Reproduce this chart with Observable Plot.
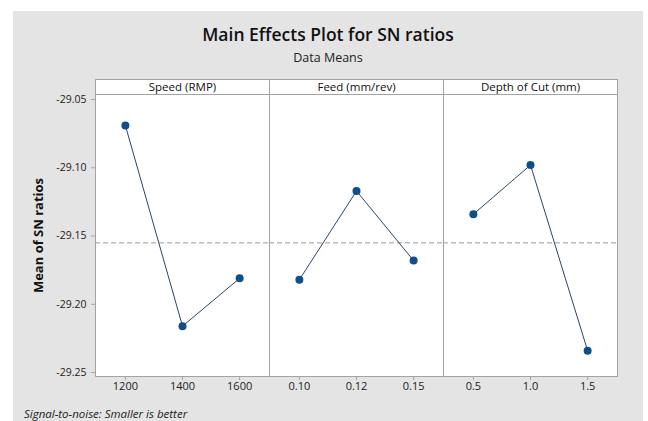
<!DOCTYPE html>
<html>
<head>
<meta charset="utf-8">
<script src="https://cdn.jsdelivr.net/npm/d3@7"></script>
<script src="https://cdn.jsdelivr.net/npm/@observablehq/plot@0.6"></script>
<style>
  html, body { margin: 0; padding: 0; background: #fff; width: 648px; height: 421px; overflow: hidden; }
  #bg { position: absolute; left: 13px; top: 11px; width: 630px; height: 410px; background: #e4e4e4; font-family: "Open Sans", sans-serif; }
  #title { position: absolute; left: 0; width: 630px; top: 11px; text-align: center; font-size: 17.5px; font-weight: 600; color: #111; }
  #subtitle { position: absolute; left: 0; width: 630px; top: 38px; text-align: center; font-size: 12.5px; color: #222; }
  #chart { position: absolute; left: 0; top: 49px; }
  #caption { position: absolute; left: 11px; top: 395px; font-size: 11.5px; font-style: italic; color: #222; }
  #chart g[aria-label="y-axis label"] text { font-weight: 700; font-size: 13px; fill: #111; }
</style>
</head>
<body>
<div id="bg">
  <div id="title">Main Effects Plot for SN ratios</div>
  <div id="subtitle">Data Means</div>
  <div id="chart"></div>
  <div id="caption">Signal-to-noise: Smaller is better</div>
</div>
<script>
const factors = ["Speed (RMP)", "Feed (mm/rev)", "Depth of Cut (mm)"];
const speedLevels = ["1200", "1400", "1600"];
const speedMeans = [-29.069, -29.216, -29.181];
const feedLevels = ["0.10", "0.12", "0.15"];
const feedMeans = [-29.182, -29.117, -29.168];
const depthLevels = ["0.5", "1.0", "1.5"];
const depthMeans = [-29.134, -29.098, -29.234];
const overallMean = -29.155;
const yTicks = [-29.05, -29.10, -29.15, -29.20, -29.25];

const rows = [];
[[speedLevels, speedMeans], [feedLevels, feedMeans], [depthLevels, depthMeans]].forEach(([lv, mv], k) => {
  lv.forEach((l, i) => rows.push({factor: factors[k], i, label: l, value: mv[i]}));
});

const H = 340, mT = 34, mB = 24;
const plotH = H - mT - mB;

const chart = Plot.plot({
  width: 630,
  height: H,
  marginLeft: 81,
  marginRight: 26,
  marginTop: mT,
  marginBottom: mB,
  style: {background: "transparent", fontFamily: "Open Sans, sans-serif", fontSize: "10.5px", color: "#222"},
  fx: {domain: factors, padding: 0, axis: null},
  x: {domain: [-0.523, 2.523], axis: null},
  y: {domain: [-29.2529, -29.0463], ticks: yTicks, tickFormat: d => d.toFixed(2), tickSize: 4,
      label: "Mean of SN ratios", labelAnchor: "center", labelOffset: 62, labelArrow: "none"},
  marks: [
    Plot.frame({fill: "white", stroke: "#a3a3a3"}),
    Plot.frame({fill: "white", stroke: "#a3a3a3", insetTop: -15, insetBottom: plotH}),
    Plot.text(factors, {fx: d => d, text: d => d, frameAnchor: "top", lineAnchor: "middle", dy: -7.5, fontSize: 11.5, fill: "#111"}),
    Plot.ruleY([overallMean], {stroke: "#9a9a9a", strokeDasharray: "5,3", strokeWidth: 1}),
    Plot.line(rows, {x: "i", y: "value", fx: "factor", z: "factor", stroke: "#2b4763", strokeWidth: 1}),
    Plot.dot(rows, {x: "i", y: "value", fx: "factor", r: 4, fill: "#0c4f8c", stroke: "none"}),
    Plot.ruleX(rows, {x: "i", fx: "factor", insetTop: plotH, insetBottom: -4, stroke: "#a3a3a3"}),
    Plot.text(rows, {x: "i", fx: "factor", text: "label", frameAnchor: "bottom", dy: 13, fontSize: 11, fill: "#222"}),
    Plot.axisY({ticks: yTicks, tickFormat: d => d.toFixed(2), tickSize: 4, stroke: "#a3a3a3", fontSize: 10.5,
      label: "Mean of SN ratios", labelAnchor: "center", labelOffset: 62, labelArrow: "none"})
  ]
});
document.getElementById("chart").appendChild(chart);
</script>
</body>
</html>
